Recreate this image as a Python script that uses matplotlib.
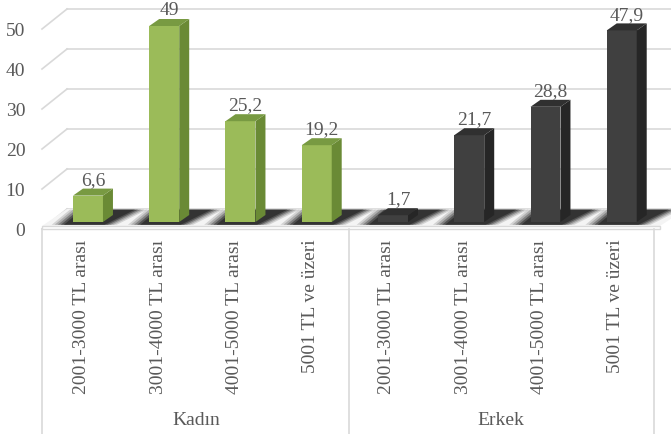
import numpy as np
import matplotlib.pyplot as plt
from matplotlib.patches import Polygon
from matplotlib.transforms import blended_transform_factory

plt.rcParams['font.family'] = ['Liberation Serif', 'DejaVu Serif']

groups = ['Kadın', 'Erkek']
categories = ['2001-3000 TL arası', '3001-4000 TL arası', '4001-5000 TL arası', '5001 TL ve üzeri']
kadin = [6.6, 49, 25.2, 19.2]
erkek = [1.7, 21.7, 28.8, 47.9]
yticks = [0, 10, 20, 30, 40, 50]

values = np.array(kadin + erkek)
labels = categories + categories
front_cols = ['#9BBB59'] * 4 + ['#404040'] * 4
side_cols = ['#6A8A35'] * 4 + ['#262626'] * 4
top_cols = ['#789A42'] * 4 + ['#303030'] * 4
txt = '#595959'
grid = '#d9d9d9'

W, H = 671, 435
fig = plt.figure(figsize=(W / 100, H / 100), dpi=100)
ax = fig.add_axes([42 / W, (H - 230) / H, (W - 42) / W, 230 / H])
x0, x1 = -0.603, 7.646
ax.set_xlim(x0, x1)
ax.set_ylim(-1.75, 55.75)
for s in ax.spines.values():
    s.set_visible(False)

# perspective offsets (in data units)
front_off, back_off = -1.75, 3.25
back_x = -0.275
w = 0.393
dx, dy = 0.131, 1.75
xs = np.arange(len(values))

# back wall gridlines + left wall diagonals
for t in yticks:
    ax.plot([back_x, x1], [t + back_off] * 2, color=grid, lw=1.2, clip_on=False, zorder=1)
    ax.plot([x0, back_x], [t + front_off, t + back_off], color=grid, lw=1.2, clip_on=False, zorder=1)

# floor
floor = Polygon([(x0, -1), (7.50, -1), (x1 + 0.2, back_off), (back_x, back_off)],
                closed=True, fc='#f4f4f4', ec='none', zorder=1, clip_on=False)
ax.add_patch(floor)
ax.add_patch(Polygon([(x0, -1.75), (7.50, -1.75), (7.50, -1), (x0, -1)], closed=True,
                     fc='white', ec=grid, lw=1.0, zorder=1.5, clip_on=False))

# soft shadows on floor
for xi in xs:
    for k, a in enumerate([0.15, 0.2, 0.3, 0.45, 0.55]):
        g = 0.16 - k * 0.04
        shp = [(xi - w / 2 - 0.12 - g, -0.7), (xi + w / 2 + 0.02 + g, -0.7),
               (xi + w / 2 + 0.42 + g, back_off - 0.15), (xi - w / 2 + 0.12 - g, back_off - 0.15)]
        ax.add_patch(Polygon(shp, closed=True, fc='#1a1a1a', ec='none', alpha=a, zorder=2))

# bars with 3D faces
ax.bar(xs, values, width=w, color=front_cols, zorder=5)
for xi, v, sc, tc in zip(xs, values, side_cols, top_cols):
    r, l = xi + w / 2, xi - w / 2
    ax.add_patch(Polygon([(r, 0), (r + dx, dy), (r + dx, v + dy), (r, v)], closed=True,
                         fc=sc, ec='none', zorder=5))
    ax.add_patch(Polygon([(l, v), (r, v), (r + dx, v + dy), (l + dx, v + dy)], closed=True,
                         fc=tc, ec='none', zorder=5))
    lab = f'{v:g}'.replace('.', ',')
    ax.text(xi + dx / 2, v + dy + 0.2, lab, ha='center', va='bottom', fontsize=14,
            color=txt, zorder=6)

# axes ticks
ax.set_yticks(np.array(yticks) + front_off, [str(t) for t in yticks])
ax.tick_params(axis='y', length=0, pad=12, labelsize=14, labelcolor=txt)
ax.set_xticks(xs - 0.08, labels, rotation=90, va='top')
ax.tick_params(axis='x', length=0, pad=7, labelsize=14, labelcolor=txt)

# category box
tr = blended_transform_factory(ax.transData, fig.transFigure)
for xv in [x0, 3.42, 7.42]:
    ax.plot([xv, xv], [0, (H - 230) / H], color=grid, lw=1.2, transform=tr, clip_on=False)
for gi, g in enumerate(groups):
    ax.text(1.42 + 4 * gi, 14 / H, g, ha='center', va='center', fontsize=14,
            color=txt, transform=tr)

fig.savefig('out.png', dpi=100)
